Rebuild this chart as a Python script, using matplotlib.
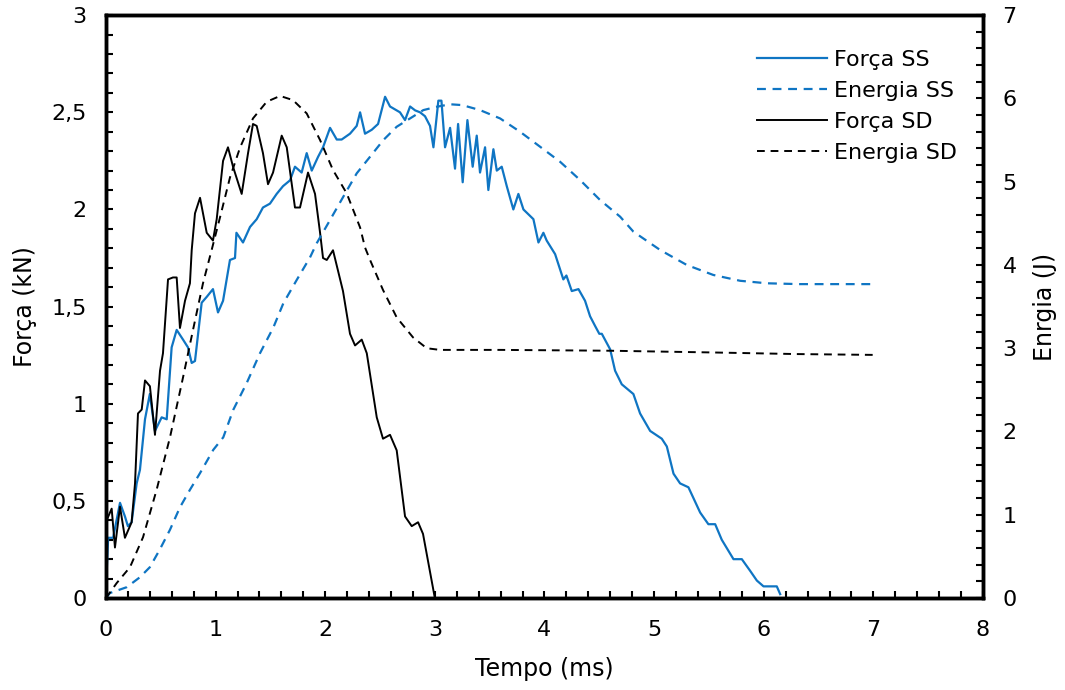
import matplotlib
matplotlib.use("Agg")
import matplotlib.pyplot as plt
from matplotlib.ticker import MultipleLocator, FuncFormatter

# Força SD (kN)
t_fsd = [0.0, 0.006, 0.052, 0.082, 0.128, 0.173, 0.234, 0.265, 0.292, 0.326, 0.356,
         0.401, 0.447, 0.493, 0.520, 0.566, 0.611, 0.645, 0.675, 0.721, 0.766,
         0.782, 0.812, 0.858, 0.919, 0.976, 1.010, 1.068, 1.113, 1.159, 1.238,
         1.296, 1.341, 1.375, 1.432, 1.478, 1.524, 1.603, 1.649, 1.724, 1.770,
         1.843, 1.907, 1.953, 1.980, 2.014, 2.071, 2.162, 2.226, 2.272, 2.333,
         2.379, 2.470, 2.527, 2.591, 2.652, 2.728, 2.789, 2.847, 2.892, 3.0]
f_sd = [0.05, 0.40, 0.46, 0.26, 0.47, 0.31, 0.39, 0.59, 0.95, 0.97, 1.12,
        1.09, 0.84, 1.17, 1.26, 1.64, 1.65, 1.65, 1.39, 1.53, 1.62,
        1.79, 1.98, 2.06, 1.88, 1.84, 1.95, 2.25, 2.32, 2.22, 2.08,
        2.29, 2.44, 2.43, 2.29, 2.13, 2.19, 2.38, 2.32, 2.01, 2.01,
        2.19, 2.08, 1.88, 1.75, 1.74, 1.79, 1.58, 1.36, 1.30, 1.33,
        1.26, 0.93, 0.82, 0.84, 0.76, 0.42, 0.37, 0.39, 0.33, 0.0]

# Energia SD (J)
t_esd = [0.0, 0.098, 0.219, 0.338, 0.462, 0.584, 0.703, 0.794, 0.885, 0.964,
         1.04, 1.131, 1.223, 1.341, 1.466, 1.588, 1.706, 1.831, 1.953, 2.071,
         2.196, 2.318, 2.363, 2.409, 2.527, 2.652, 2.801, 2.926, 3.047, 3.6,
         4.6, 5.5, 6.3, 7.0]
e_sd = [0.0, 0.18, 0.37, 0.73, 1.30, 1.93, 2.65, 3.22, 3.78, 4.18,
        4.57, 5.05, 5.41, 5.76, 5.96, 6.03, 5.98, 5.82, 5.50, 5.14,
        4.86, 4.45, 4.21, 4.06, 3.70, 3.37, 3.13, 3.00, 2.98, 2.98,
        2.97, 2.95, 2.93, 2.92]

# Força SS (kN)
t_fss = [0.0, 0.02, 0.065, 0.128, 0.173, 0.2, 0.234, 0.28, 0.31, 0.356, 0.40,
         0.447, 0.508, 0.554, 0.599, 0.645, 0.703, 0.748, 0.782, 0.812, 0.873,
         0.919, 0.976, 1.022, 1.068, 1.131, 1.177, 1.19, 1.25, 1.314, 1.375,
         1.432, 1.496, 1.557, 1.615, 1.679, 1.724, 1.785, 1.831, 1.877, 1.934,
         1.98, 2.044, 2.105, 2.15, 2.226, 2.287, 2.318, 2.363, 2.424, 2.482,
         2.546, 2.591, 2.682, 2.728, 2.774, 2.82, 2.865, 2.91, 2.956, 2.987,
         3.032, 3.06, 3.093, 3.139, 3.184, 3.212, 3.254, 3.297, 3.345, 3.382,
         3.412, 3.458, 3.488, 3.534, 3.565, 3.61, 3.656, 3.716, 3.762, 3.808,
         3.899, 3.945, 3.99, 4.02, 4.097, 4.172, 4.20, 4.249, 4.31, 4.37,
         4.416, 4.462, 4.50, 4.523, 4.599, 4.644, 4.705, 4.811, 4.872, 4.964,
         5.07, 5.116, 5.177, 5.237, 5.313, 5.42, 5.495, 5.557, 5.617, 5.724,
         5.80, 5.876, 5.937, 5.998, 6.119, 6.15]
f_ss = [0.05, 0.31, 0.31, 0.49, 0.42, 0.37, 0.39, 0.59, 0.66, 0.92, 1.05,
        0.86, 0.93, 0.92, 1.29, 1.38, 1.33, 1.29, 1.21, 1.22, 1.52,
        1.55, 1.59, 1.47, 1.53, 1.74, 1.75, 1.88, 1.83, 1.91, 1.95,
        2.01, 2.03, 2.08, 2.12, 2.15, 2.22, 2.19, 2.29, 2.20, 2.27,
        2.32, 2.42, 2.36, 2.36, 2.39, 2.43, 2.50, 2.39, 2.41, 2.44,
        2.58, 2.53, 2.50, 2.46, 2.53, 2.51, 2.50, 2.48, 2.43, 2.32,
        2.56, 2.56, 2.32, 2.42, 2.21, 2.44, 2.14, 2.46, 2.22, 2.38,
        2.19, 2.32, 2.10, 2.31, 2.20, 2.22, 2.12, 2.00, 2.08, 2.00,
        1.95, 1.83, 1.88, 1.84, 1.77, 1.64, 1.66, 1.58, 1.59, 1.53,
        1.45, 1.40, 1.36, 1.36, 1.28, 1.17, 1.10, 1.05, 0.95, 0.86,
        0.82, 0.78, 0.64, 0.59, 0.57, 0.44, 0.38, 0.38, 0.30, 0.20,
        0.20, 0.14, 0.09, 0.06, 0.06, 0.02]

# Energia SS (J)
t_ess = [0.0, 0.036, 0.189, 0.31, 0.40, 0.49, 0.584, 0.675, 0.766, 0.858,
         0.979, 1.07, 1.161, 1.283, 1.405, 1.527, 1.618, 1.74, 1.861, 1.922,
         2.044, 2.165, 2.287, 2.409, 2.53, 2.652, 2.774, 2.895, 3.017, 3.139,
         3.25, 3.412, 3.595, 3.777, 3.96, 4.142, 4.325, 4.507, 4.69, 4.811,
         5.055, 5.298, 5.54, 5.785, 6.028, 6.33, 7.0]
e_ss = [0.0, 0.06, 0.13, 0.25, 0.37, 0.58, 0.82, 1.09, 1.30, 1.50,
        1.78, 1.93, 2.26, 2.58, 2.94, 3.25, 3.54, 3.82, 4.09, 4.26,
        4.54, 4.82, 5.10, 5.30, 5.50, 5.66, 5.76, 5.86, 5.90, 5.93,
        5.92, 5.86, 5.76, 5.60, 5.42, 5.24, 5.02, 4.78, 4.58, 4.40,
        4.18, 4.00, 3.88, 3.81, 3.78, 3.77, 3.77]

blue = '#0f75c3'
plt.rcParams['font.family'] = ['DejaVu Sans']
plt.rcParams['font.size'] = 16

fig = plt.figure(figsize=(10.65, 6.9), dpi=100)
ax = fig.add_axes([0.0995, 0.1333, 0.8235, 0.8447])
ax2 = ax.twinx()

l1, = ax.plot(t_fss, f_ss, color=blue, lw=1.6, label='Força SS')
l2, = ax2.plot(t_ess, e_ss, color=blue, lw=1.6, ls=(0, (4, 3)), label='Energia SS')
l3, = ax.plot(t_fsd, f_sd, color='black', lw=1.4, label='Força SD')
l4, = ax2.plot(t_esd, e_sd, color='black', lw=1.4, ls=(0, (4, 3)), label='Energia SD')

ax.set_xlim(0, 8)
ax.set_ylim(0, 3)
ax2.set_ylim(0, 7)

comma = FuncFormatter(lambda v, p: ('%g' % v).replace('.', ','))
ax.xaxis.set_major_locator(MultipleLocator(1))
ax.xaxis.set_minor_locator(MultipleLocator(0.2))
ax.yaxis.set_major_locator(MultipleLocator(0.5))
ax.yaxis.set_minor_locator(MultipleLocator(0.1))
ax.yaxis.set_major_formatter(comma)
ax2.yaxis.set_major_locator(MultipleLocator(1))
ax2.yaxis.set_minor_locator(MultipleLocator(0.2))

for a in (ax, ax2):
    a.tick_params(which='both', direction='in', width=1.5, length=5, labelsize=16, pad=14)
    for s in a.spines.values():
        s.set_linewidth(2.5)
ax.tick_params(axis='x', which='both', top=False, pad=16)

ax.set_xlabel('Tempo (ms)', fontsize=17, labelpad=12)
ax.set_ylabel('Força (kN)', fontsize=17, labelpad=10)
ax2.set_ylabel('Enrgia (J)', fontsize=17, labelpad=12)

ax2.legend([l1, l2, l3, l4], ['Força SS', 'Energia SS', 'Força SD', 'Energia SD'],
           loc='upper left', bbox_to_anchor=(0.7195, 0.975), frameon=False,
           handlelength=3.15, handletextpad=0.3, labelspacing=0.5, fontsize=16)

fig.savefig('out.png', dpi=100)
